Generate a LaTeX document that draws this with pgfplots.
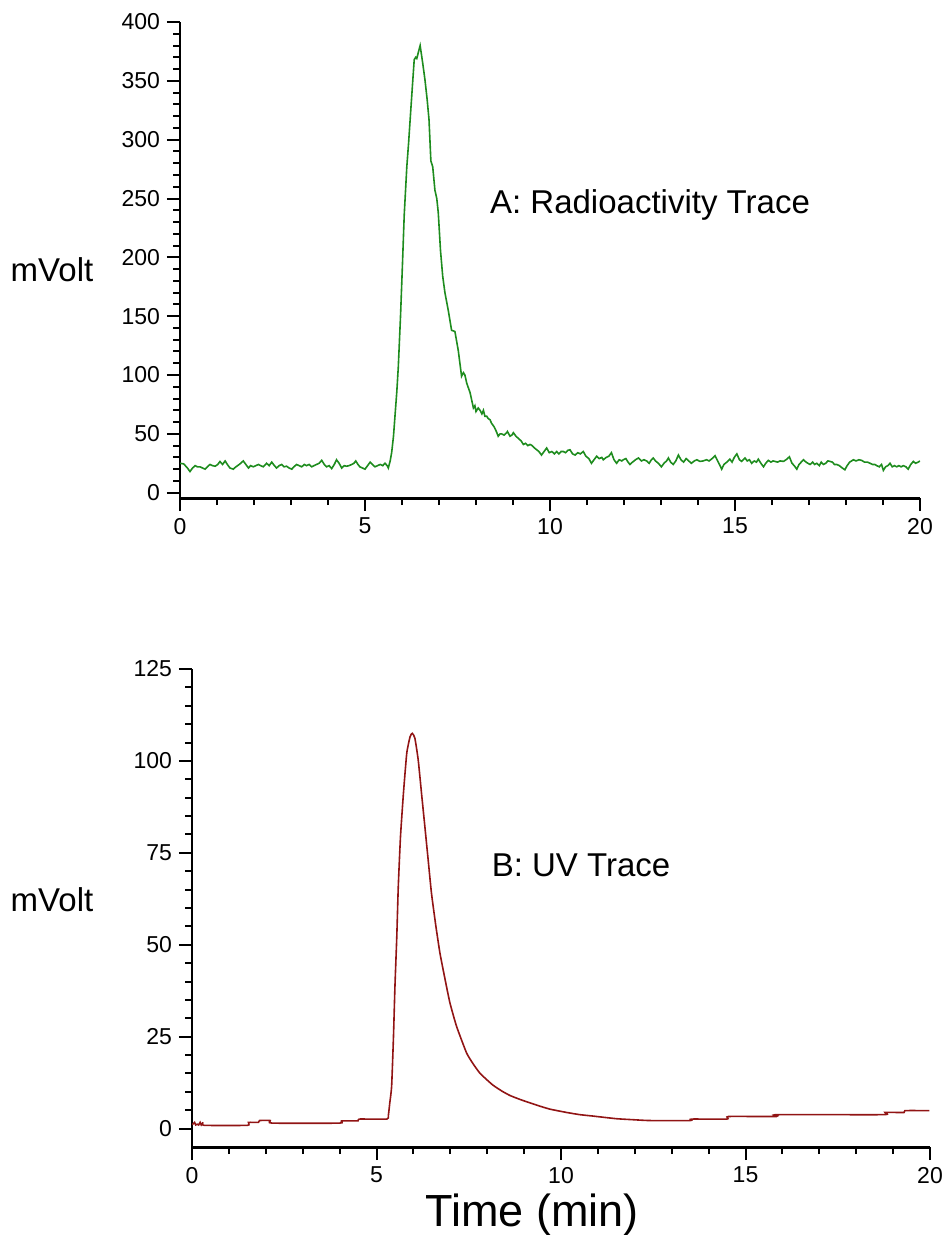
\documentclass[border=0pt]{standalone}
\usepackage{fontspec}
\setmainfont{Liberation Sans}
\usepackage{pgfplots}
\pgfplotsset{compat=1.18}

\definecolor{cRad}{RGB}{30,140,30}
\definecolor{cUV}{RGB}{145,20,20}

\pgfplotsset{
  chrom/.style={
    scale only axis,
    axis x line=bottom, axis y line=left,
    x axis line style={-, line width=1.5pt},
    y axis line style={-, line width=1pt},
    tick align=outside,
    major tick length=6.5pt, minor tick length=3.5pt,
    every tick/.style={black, line width=1pt},
    xmin=0, xmax=20, xtick={0,5,10,15,20}, minor x tick num=4, minor y tick num=4,
    tick label style={font=\fontsize{11.5}{13}\selectfont},
    /pgf/number format/assume math mode=true,
  },
}

\begin{document}
\begin{tikzpicture}
\path[use as bounding box] (0,0) rectangle (472.5pt,-617.5pt);

% A: radioactivity
\begin{axis}[chrom,
  at={(90pt,-249pt)}, anchor=south west,
  width=370pt, height=238pt,
  ymin=-4.5, ymax=400, ytick={0,50,...,400},
]
\addplot[cRad, line width=0.8pt] coordinates {
(0,25)(0.1,24.5)(0.2,21)(0.27,18)(0.34,21)(0.41,23)(0.47,22)(0.54,22)(0.61,21)(0.68,20)
(0.74,22)(0.81,24)(0.88,23)(0.95,22.5)(1.02,24)(1.08,26.5)(1.15,24)(1.22,27)(1.28,24)(1.35,21)
(1.44,20)(1.51,22)(1.58,23.5)(1.64,25)(1.71,27)(1.78,24)(1.85,21)(1.91,23)(1.98,22)(2.05,23)
(2.12,24)(2.18,23)(2.25,22)(2.34,25)(2.41,23)(2.48,26)(2.55,23)(2.61,21)(2.68,23)(2.75,24)
(2.81,22)(2.88,22.5)(2.95,21)(3.02,20)(3.08,22)(3.15,24)(3.22,23)(3.29,22)(3.36,24)(3.42,23)
(3.49,24)(3.56,22)(3.62,23)(3.69,24)(3.76,25)(3.83,27.5)(3.9,24)(3.96,22)(4.03,23)(4.1,20.5)
(4.17,24)(4.23,28)(4.3,25)(4.37,21)(4.44,23)(4.5,22.5)(4.57,23)(4.64,24)(4.7,25)(4.75,27)
(4.81,24)(4.86,22)(4.93,21)(5.0,20)(5.07,23)(5.14,26)(5.2,24)(5.27,22)(5.34,23)(5.41,24)
(5.48,23)(5.54,25)(5.6,23)(5.63,21)
(5.68,27)(5.72,34)(5.77,48)(5.81,65)(5.86,86)(5.9,107)(5.96,150)(6.01,192)(6.06,236)(6.13,277)
(6.18,298)(6.22,317)(6.28,345)(6.33,368)(6.37,370)(6.40,369)(6.44,374)(6.49,380)(6.56,365)(6.62,351)
(6.68,334)(6.73,317)(6.78,282)(6.83,277)(6.89,257)(6.94,250)(6.98,238)(7.04,206)(7.10,184)(7.16,170)
(7.25,155)(7.34,138)(7.43,137)(7.52,121)(7.61,99)(7.66,102)(7.70,100)(7.75,93)(7.84,85)(7.93,72)
(7.97,74)(8.0,69)(8.06,72)(8.11,70)(8.16,67)(8.2,70)(8.24,65)(8.29,65)(8.33,63)(8.38,62)
(8.42,59)(8.49,56)(8.55,52)(8.60,48)(8.65,50)(8.69,50)(8.76,49)(8.83,51)(8.85,52)(8.92,48)
(8.97,49)(9.01,51)(9.08,48)(9.15,46)(9.22,44)(9.28,41)(9.34,42)(9.40,40)(9.46,41)(9.52,40)
(9.58,38)(9.64,36.5)(9.7,35)(9.77,32)(9.84,35)(9.91,38)(9.98,34)(10.05,35)(10.12,33)(10.18,35)
(10.24,33)(10.30,35)(10.36,35)(10.42,34)(10.48,36)(10.54,36.5)(10.61,33)(10.68,32)(10.75,34)(10.82,33)
(10.90,35)(10.97,31)(11.05,29)(11.12,25)(11.19,28)(11.26,31)(11.33,29)(11.40,30)(11.44,28)(11.52,30)
(11.59,31)(11.66,34)(11.73,28)(11.80,25)(11.87,28)(11.94,27)(11.98,28)(12.05,29)(12.11,26)(12.16,24)
(12.23,26)(12.31,28)(12.39,29.5)(12.47,27)(12.54,28)(12.61,27)(12.68,25)(12.74,28)(12.79,29.5)(12.85,27)
(12.93,25)(13.01,22)(13.08,25)(13.15,27)(13.2,29.5)(13.26,26)(13.33,24)(13.40,27)(13.47,32)(13.54,28)
(13.61,26)(13.68,29)(13.75,27)(13.82,25)(13.9,27)(13.97,28)(14.05,26.6)(14.14,27)(14.23,28)(14.3,27)
(14.38,29)(14.46,31.5)(14.53,27)(14.58,24)(14.64,20)(14.7,24)(14.78,26)(14.86,28.5)(14.92,26)(14.98,30)
(15.05,33)(15.12,28)(15.18,26.6)(15.27,29.5)(15.33,27)(15.39,28)(15.45,25)(15.52,27)(15.58,26)(15.63,28.5)
(15.7,25)(15.77,22)(15.83,25)(15.9,27.5)(15.97,26)(16.03,27)(16.08,26.6)(16.15,26)(16.22,27)(16.31,26.6)
(16.38,28)(16.47,30.5)(16.54,25)(16.6,23)(16.67,20)(16.73,24)(16.79,26)(16.85,28)(16.92,26)(16.97,25)
(17.03,24)(17.1,26)(17.15,24)(17.21,25)(17.28,23)(17.33,26)(17.39,24)(17.45,25)(17.51,27)(17.57,26.6)
(17.63,26)(17.69,24)(17.75,24)(17.82,23)(17.9,21)(17.97,19.5)(18.03,23)(18.1,26)(18.2,28)(18.27,27)
(18.35,28)(18.42,27.5)(18.5,26)(18.58,26)(18.65,25)(18.72,24)(18.78,24)(18.83,23)(18.9,22)(18.96,24)
(19.01,19)(19.07,22)(19.13,23)(19.19,25)(19.25,22)(19.31,23)(19.37,22)(19.43,23)(19.49,22)(19.55,23)
(19.62,22)(19.68,20)(19.75,24)(19.82,26.6)(19.88,25)(19.95,26)(20,27)
};
\end{axis}

% B: UV
\begin{axis}[chrom,
  at={(96pt,-573.5pt)}, anchor=south west,
  width=369pt, height=239pt,
  ymin=-5, ymax=125, ytick={0,25,...,125},
]
\addplot[cUV, line width=0.8pt, smooth, tension=0.3] coordinates {
(0,1.1)(0.03,1.3)(0.07,1.7)(0.1,1.0)(0.14,1.2)(0.18,1.0)(0.22,1.7)(0.25,1.0)(0.3,1.7)(0.33,0.9)
(1.5,0.9)(1.53,1.7)(1.8,1.7)(1.83,2.2)(2.12,2.2)(2.17,1.5)(4.0,1.5)(4.05,2.1)(4.5,2.1)(4.53,2.6)
(5.28,2.6)(5.32,3.5)(5.36,7)(5.41,11.5)(5.46,25)(5.50,38.7)(5.55,52.3)(5.59,65.8)(5.65,79.4)(5.73,91.2)
(5.82,102.1)(5.91,106.6)(5.97,107.5)(6.04,106.2)(6.13,100.3)(6.22,91.2)(6.31,82.2)(6.40,73.1)(6.49,64.0)(6.61,55.0)
(6.72,47.7)(6.86,40.5)(6.99,34.2)(7.17,27.8)(7.44,20.6)(7.62,17.6)(7.80,15.1)(8.0,13.2)(8.16,11.8)(8.40,10.2)
(8.62,9.0)(8.9,7.9)(9.16,7.0)(9.4,6.2)(9.70,5.3)(10.15,4.4)(10.51,3.8)(10.88,3.4)(11.5,2.7)(12.0,2.4)
(12.4,2.2)(13.5,2.2)(13.54,2.6)(14.5,2.6)(14.54,3.3)(15.84,3.3)(15.86,3.8)(18.74,3.8)(18.78,4.4)(19.3,4.4)
(19.32,4.9)(19.98,4.9)
};
\end{axis}

\node at (26pt,-135pt) {\fontsize{16.5}{20}\selectfont mVolt};
\node at (26pt,-450pt) {\fontsize{16.5}{20}\selectfont mVolt};
\node at (325pt,-102.5pt) {\fontsize{16.5}{20}\selectfont A: Radioactivity Trace};
\node at (290.5pt,-432.5pt) {\fontsize{16.5}{20}\selectfont B: UV Trace};
\node at (266pt,-607.5pt) {\fontsize{22.5}{26}\selectfont Time (min)};
\end{tikzpicture}
\end{document}
